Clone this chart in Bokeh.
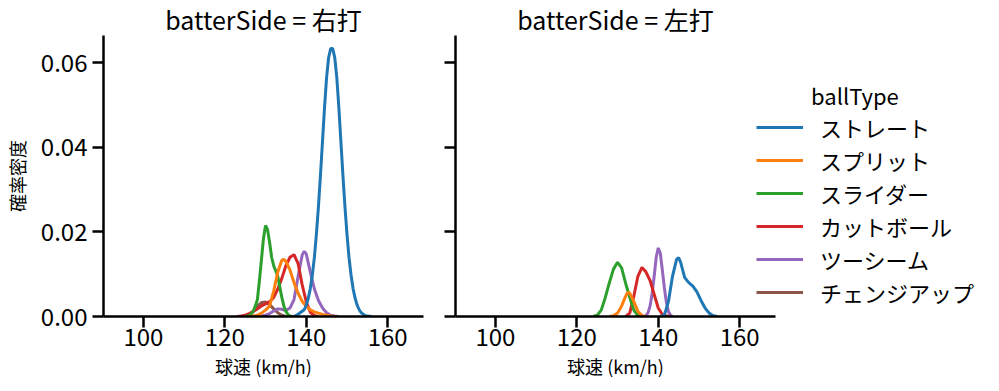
import math
from bokeh.plotting import figure
from bokeh.models import (Range1d, Legend, LegendItem, FixedTicker, NumeralTickFormatter,
                          CustomJSTickFormatter)
from bokeh.layouts import row
from bokeh.embed import file_html
from bokeh.resources import INLINE

FONT = "Noto Sans CJK JP"

# ---------------- data ----------------
ball_types = ["ストレート", "スプリット", "スライダー", "カットボール", "ツーシーム", "チェンジアップ"]
colors = ["#1f77b4", "#ff7f0e", "#2ca02c", "#d62728", "#9467bd", "#8c564b"]
panel_titles = ["batterSide = 右打", "batterSide = 左打"]
legend_title = "ballType"
x_label = "球速 (km/h)"
y_label = "確率密度"
x_ticks = [100, 120, 140, 160]
y_ticks = [0.0, 0.02, 0.04, 0.06]

# 右打 (right-handed batters): speed (km/h) and density
r_straight_x = [137, 137.5, 138.5, 139.5, 140, 140.5, 141, 141.5, 142, 142.5, 143, 143.5, 144, 144.5, 145, 145.5,
                146, 146.5, 147, 147.5, 148, 148.5, 149, 149.5, 150, 150.5, 151, 151.5, 152, 152.5,
                153, 153.5, 154.5, 156]
r_straight_y = [0.0, 0.0002, 0.0009, 0.0016, 0.0027, 0.0043, 0.0066, 0.0098, 0.0140, 0.0195, 0.0260, 0.0335,
                0.0415, 0.0495, 0.0565, 0.0612, 0.0633, 0.0633, 0.0612, 0.0565, 0.0495, 0.0415, 0.0335, 0.0260,
                0.0195, 0.0140, 0.0098, 0.0066, 0.0043, 0.0027, 0.0016, 0.0009, 0.0002, 0.0]
r_split_x = [126, 127, 128, 129, 130, 131, 132, 133, 134, 134.5, 135, 136, 137, 138, 139, 140, 141, 142,
             143, 144, 145, 146, 147.5]
r_split_y = [0.0, 0.0001, 0.0003, 0.0008, 0.0015, 0.0025, 0.0060, 0.0105, 0.0133, 0.0135, 0.0130, 0.0110,
             0.0080, 0.0055, 0.0036, 0.0024, 0.0016, 0.0011, 0.0008, 0.0005, 0.0003, 0.0001, 0.0]
r_slider_x = [125, 125.5, 126, 126.5, 127, 127.5, 128, 128.5, 129, 129.5, 130, 130.5, 131, 131.5, 132, 132.5,
              133, 133.5, 134, 134.5, 135, 135.5, 136, 137]
r_slider_y = [0.0, 0.0001, 0.0002, 0.0006, 0.0013, 0.0025, 0.0040, 0.0085, 0.0135, 0.0185, 0.0215, 0.0205,
              0.0175, 0.0140, 0.0120, 0.0108, 0.0095, 0.0070, 0.0045, 0.0025, 0.0012, 0.0005, 0.0001, 0.0]
r_cutter_x = [123, 124, 125, 126, 127, 128, 129, 130, 131, 132, 133, 134, 135, 136, 137, 138, 139, 140, 141,
              142, 143]
r_cutter_y = [0.0, 0.0001, 0.0003, 0.0007, 0.0012, 0.0018, 0.0025, 0.0030, 0.0035, 0.0045, 0.0065, 0.0090,
              0.0120, 0.0140, 0.0146, 0.0125, 0.0075, 0.0035, 0.0010, 0.0002, 0.0]
r_twoseam_x = [128, 129, 130, 131, 132, 133, 134, 135, 136, 137, 138, 139, 139.5, 140, 141, 142, 143, 144,
               145, 146, 147, 148]
r_twoseam_y = [0.0, 0.0001, 0.0003, 0.0007, 0.0013, 0.0018, 0.0017, 0.0014, 0.0020, 0.0040, 0.0095, 0.0145,
               0.0154, 0.0148, 0.0105, 0.0065, 0.0038, 0.0020, 0.0009, 0.0003, 0.0001, 0.0]
r_changeup_x = [125, 126, 127, 128, 129, 130, 131, 132, 133, 134, 135]
r_changeup_y = [0.0, 0.0003, 0.0012, 0.0025, 0.0033, 0.0034, 0.0028, 0.0018, 0.0009, 0.0003, 0.0]

# 左打 (left-handed batters)
l_straight_x = [140.5, 141.5, 142.5, 143.5, 144.5, 145, 145.5, 146.5, 147.5, 148.5, 149.5, 150.5, 151.5, 152.5,
                153.5, 154.5]
l_straight_y = [0.0, 0.0003, 0.0035, 0.0095, 0.0135, 0.0139, 0.0128, 0.0092, 0.0080, 0.0072, 0.0058, 0.0038,
                0.0020, 0.0008, 0.0002, 0.0]
l_split_x = [128, 129, 130, 131, 132, 132.5, 133, 134, 135, 136, 137]
l_split_y = [0.0, 0.0002, 0.0008, 0.0025, 0.0048, 0.0057, 0.0055, 0.0035, 0.0012, 0.0002, 0.0]
l_slider_x = [124, 125, 126, 127, 128, 129, 130, 131, 132, 133, 134, 135, 136]
l_slider_y = [0.0, 0.0003, 0.0015, 0.0045, 0.0080, 0.0112, 0.0128, 0.0115, 0.0078, 0.0045, 0.0015, 0.0002, 0.0]
l_cutter_x = [132, 133, 134, 135, 136, 137, 138, 139, 140, 141, 142, 143]
l_cutter_y = [0.0, 0.0008, 0.0048, 0.0095, 0.0116, 0.0105, 0.0085, 0.0052, 0.0020, 0.0005, 0.0001, 0.0]
l_twoseam_x = [136.5, 137, 137.5, 138, 138.5, 139, 139.5, 140, 140.5, 141, 141.5, 142, 142.5, 143, 143.5]
l_twoseam_y = [0.0, 0.0002, 0.0009, 0.0025, 0.0055, 0.0095, 0.0140, 0.0162, 0.0150, 0.0110, 0.0068, 0.0033,
               0.0012, 0.0003, 0.0]
l_changeup_x = []   # no チェンジアップ against left-handed batters
l_changeup_y = []

panels = [
    [(r_straight_x, r_straight_y), (r_split_x, r_split_y), (r_slider_x, r_slider_y),
     (r_cutter_x, r_cutter_y), (r_twoseam_x, r_twoseam_y), (r_changeup_x, r_changeup_y)],
    [(l_straight_x, l_straight_y), (l_split_x, l_split_y), (l_slider_x, l_slider_y),
     (l_cutter_x, l_cutter_y), (l_twoseam_x, l_twoseam_y), (l_changeup_x, l_changeup_y)],
]

x_range = Range1d(90.2, 168.8)
y_range = Range1d(0, 0.0664)


def make_fig(i):
    left = 99 if i == 0 else 22
    right = 10 if i == 0 else 219
    p = figure(frame_width=320, frame_height=281, x_range=x_range, y_range=y_range,
               output_backend="svg", toolbar_location=None,
               min_border_left=left, min_border_right=right, min_border_top=20, min_border_bottom=60,
               title=panel_titles[i])
    p.outline_line_color = None
    p.background_fill_color = "white"
    p.border_fill_color = "white"
    p.xgrid.visible = False
    p.ygrid.visible = False
    p.title.align = "center"
    p.title.text_font = FONT
    p.title.text_font_size = "25px"
    p.title.text_font_style = "normal"
    p.title.text_color = "black"
    p.title.standoff = -3
    for ax in (p.xaxis[0], p.yaxis[0]):
        ax.axis_line_width = 2.5
        ax.axis_line_color = "black"
        ax.major_tick_line_width = 2.5
        ax.major_tick_line_color = "black"
        ax.major_tick_out = 11
        ax.major_tick_in = 0
        ax.minor_tick_line_color = None
        ax.major_label_text_font = FONT
        ax.major_label_text_font_size = "24px"
        ax.major_label_text_color = "black"
        ax.axis_label_text_font = FONT
        ax.axis_label_text_font_size = "18px"
        ax.axis_label_text_font_style = "normal"
        ax.axis_label_text_color = "black"
    p.yaxis.major_label_standoff = 5
    p.xaxis.major_label_standoff = 0
    p.xaxis.ticker = FixedTicker(ticks=x_ticks)
    p.yaxis.ticker = FixedTicker(ticks=y_ticks)
    p.yaxis.formatter = NumeralTickFormatter(format="0.00")
    p.xaxis.axis_label = x_label
    p.xaxis.axis_label_standoff = 4
    if i == 0:
        p.yaxis.axis_label = y_label
        p.yaxis.axis_label_standoff = 8
    else:
        p.yaxis.formatter = CustomJSTickFormatter(code="return ''")
    rends = []
    for (xs, ys), c in reversed(list(zip(panels[i], colors))):
        if len(xs) == 0:
            # nothing to draw; keep a renderer (with a NaN placeholder) for the legend entry
            xs, ys = [math.nan], [math.nan]
        r = p.line(xs, ys, line_color=c, line_width=3)
        rends.append(r)
    rends = list(reversed(rends))
    return p, rends


p1, _ = make_fig(0)
p2, rends2 = make_fig(1)

legend = Legend(items=[LegendItem(label=b, renderers=[r]) for b, r in zip(ball_types, rends2)],
                location=(-19, 8))
legend.title = "\u2003\u2003\u2002" + legend_title
legend.title_text_font = FONT
legend.title_text_font_size = "22px"
legend.title_text_font_style = "normal"
legend.title_text_color = "black"
legend.title_standoff = 0
legend.label_text_font = FONT
legend.label_text_font_size = "22px"
legend.label_text_color = "black"
legend.glyph_width = 47
legend.glyph_height = 30
legend.label_height = 30
legend.spacing = 1
legend.padding = 0
legend.margin = 0
legend.label_standoff = 17
legend.border_line_color = None
legend.background_fill_alpha = 0
p2.add_layout(legend, "right")

layout = row(p1, p2)
open("out.html", "w").write(file_html(layout, INLINE))
